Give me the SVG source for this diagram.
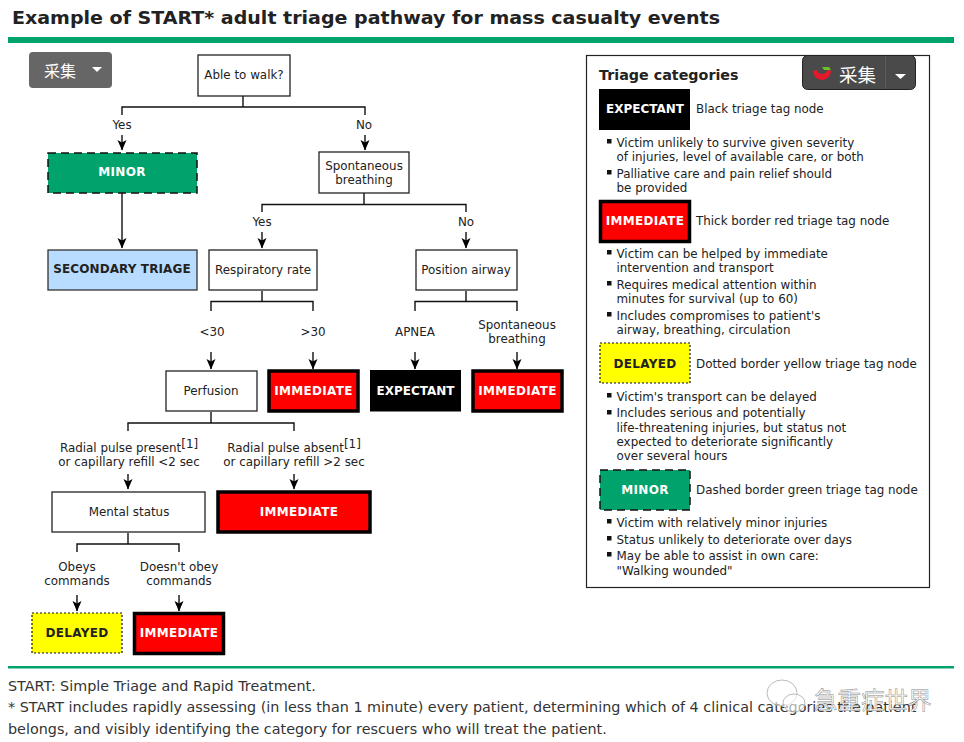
<svg xmlns="http://www.w3.org/2000/svg" width="964" height="742" viewBox="0 0 964 742">
<defs>
<marker id="ah" markerUnits="userSpaceOnUse" markerWidth="11" markerHeight="10" refX="10" refY="5" orient="auto" viewBox="0 0 11 10"><path d="M0 .5 L2.500 5 L0 9.500 L10.500 5 Z" fill="#000"/></marker>
</defs>
<style>
text{font-family:"DejaVu Sans",Verdana,sans-serif;fill:#222;font-size:11.9px;transform:translate(0,.5px)}
.c{text-anchor:middle}
.b{font-weight:bold}
.w{fill:#fff}
.box{fill:#fff;stroke:#222;stroke-width:1.3}
.imm{fill:#f00;stroke:#000;stroke-width:3.5}
.exp{fill:#000;stroke:#000;stroke-width:1}
.min{fill:#00a36c;stroke:#111;stroke-width:1.5;stroke-dasharray:8 5}
.del{fill:#ff0;stroke:#111;stroke-width:1.2;stroke-dasharray:2 2}
.sec{fill:#b8dcff;stroke:#333;stroke-width:1.3}
.tag{font-size:12px;font-weight:bold;letter-spacing:.3px}
.l{fill:none;stroke:#111;stroke-width:1.4}
.a{fill:none;stroke:#111;stroke-width:1.4;marker-end:url(#ah)}
.foot{font-size:14.35px;fill:#333;transform:none}
.bul{fill:#111}
</style>
<rect width="964" height="742" fill="#fff"/>
<text id="title" x="12" y="24" class="b" style="font-size:18.500px;transform:none" textLength="708" lengthAdjust="spacingAndGlyphs">Example of START* adult triage pathway for mass casualty events</text>
<rect x="8" y="37" width="946" height="6" fill="#00a36c"/>
<rect x="8" y="666" width="946" height="2.500" fill="#00a36c"/>

<g id="connectors">
<path class="l" d="M243 96V107M122 115V107H365V115"/>
<path class="a" d="M122 135V150"/>
<path class="a" d="M365 135V150"/>
<path class="a" d="M122 193V248"/>
<path class="l" d="M364 193V204.500M262 212V204.500H466V212"/>
<path class="a" d="M262 232V248"/>
<path class="a" d="M466 232V248"/>
<path class="l" d="M262 291V301.500M211 311V301.500H313V311"/>
<path class="a" d="M211 352V369"/>
<path class="a" d="M313 352V369"/>
<path class="l" d="M466 291V301.500M415 311V301.500H517V311"/>
<path class="a" d="M415 352V369"/>
<path class="a" d="M517 352V369"/>
<path class="l" d="M211 412V423M128 431V423H294V431"/>
<path class="a" d="M128 474V489"/>
<path class="a" d="M294 474V489"/>
<path class="l" d="M128 533V544M77 552V544H179V552"/>
<path class="a" d="M77 595V611"/>
<path class="a" d="M179 595V611"/>
</g>

<g id="n-able"><rect class="box" x="198" y="55" width="92" height="41"/><text class="c" x="244" y="78">Able to walk?</text></g>
<text class="c" x="122" y="128">Yes</text>
<text class="c" x="364" y="128">No</text>
<g id="n-minor"><rect class="min" x="48" y="153" width="149" height="40"/><text class="c tag w" x="122" y="175">MINOR</text></g>
<g id="n-secondary"><rect class="sec" x="48" y="250" width="149" height="40"/><text class="c tag" style="letter-spacing:.1px" x="122" y="272">SECONDARY TRIAGE</text></g>
<g id="n-spont"><rect class="box" x="319" y="152" width="90" height="41"/><text class="c" x="364" y="169">Spontaneous</text><text class="c" x="364" y="183">breathing</text></g>
<text class="c" x="262" y="225">Yes</text>
<text class="c" x="466" y="225">No</text>
<g id="n-resp"><rect class="box" x="209" y="250" width="108" height="40"/><text class="c" x="263" y="273">Respiratory rate</text></g>
<g id="n-airway"><rect class="box" x="416" y="250" width="101" height="40"/><text class="c" x="466" y="273">Position airway</text></g>
<text class="c" x="212" y="335">&lt;30</text>
<text class="c" x="313" y="335">&gt;30</text>
<text class="c" x="415" y="335">APNEA</text>
<text class="c" x="517" y="328">Spontaneous</text><text class="c" x="517" y="342">breathing</text>
<g id="n-perf"><rect class="box" x="166" y="371" width="91" height="40"/><text class="c" x="211" y="394">Perfusion</text></g>
<g id="n-imm1"><rect class="imm" x="269" y="371" width="89" height="40"/><text class="c tag w" x="313.500" y="394">IMMEDIATE</text></g>
<g id="n-exp"><rect class="exp" x="370.500" y="370.500" width="90" height="40.500"/><text class="c tag w" style="letter-spacing:0" x="415.500" y="394">EXPECTANT</text></g>
<g id="n-imm2"><rect class="imm" x="473" y="371" width="89" height="40"/><text class="c tag w" x="517.500" y="394">IMMEDIATE</text></g>
<text class="c" x="129" y="451">Radial pulse present<tspan dy="-4">[1]</tspan></text>
<text class="c" x="129" y="465">or capillary refill &lt;2 sec</text>
<text class="c" x="294" y="451">Radial pulse absent<tspan dy="-4">[1]</tspan></text>
<text class="c" x="294" y="465">or capillary refill &gt;2 sec</text>
<g id="n-mental"><rect class="box" x="52" y="492" width="153" height="40"/><text class="c" x="129" y="515">Mental status</text></g>
<g id="n-imm3"><rect class="imm" x="218" y="492" width="152" height="40"/><text class="c tag w" x="299" y="515">IMMEDIATE</text></g>
<text class="c" x="77" y="570">Obeys</text><text class="c" x="77" y="584">commands</text>
<text class="c" x="179" y="570">Doesn't obey</text><text class="c" x="179" y="584">commands</text>
<g id="n-delayed"><rect class="del" x="32" y="613" width="90" height="40"/><text class="c tag" x="77" y="636">DELAYED</text></g>
<g id="n-imm4"><rect class="imm" x="134.500" y="613.500" width="89" height="40"/><text class="c tag w" x="179" y="636">IMMEDIATE</text></g>

<g id="legend">
<rect x="586.500" y="55.500" width="343" height="532" fill="#fff" stroke="#222" stroke-width="1.2"/>
<text x="599" y="79" class="b" style="font-size:14.300px">Triage categories</text>
<rect x="599" y="89" width="91" height="41" fill="#000"/><text class="c tag w" style="letter-spacing:0" x="645" y="112.500">EXPECTANT</text>
<text x="696" y="112.500">Black triage tag node</text>
<text x="616.500" y="146">Victim unlikely to survive given severity</text>
<text x="616.500" y="160">of injuries, level of available care, or both</text>
<text x="616.500" y="177">Palliative care and pain relief should</text>
<text x="616.500" y="191">be provided</text>
<rect class="imm" x="600.500" y="201.500" width="89" height="40"/><text class="c tag w" x="645" y="224">IMMEDIATE</text>
<text x="696" y="224">Thick border red triage tag node</text>
<text x="616.500" y="257">Victim can be helped by immediate</text>
<text x="616.500" y="271">intervention and transport</text>
<text x="616.500" y="288">Requires medical attention within</text>
<text x="616.500" y="302">minutes for survival (up to 60)</text>
<text x="616.500" y="319">Includes compromises to patient's</text>
<text x="616.500" y="333">airway, breathing, circulation</text>
<rect class="del" x="600" y="343" width="90" height="40"/><text class="c tag" x="645" y="367">DELAYED</text>
<text x="696" y="367">Dotted border yellow triage tag node</text>
<text x="616.500" y="400">Victim's transport can be delayed</text>
<text x="616.500" y="416">Includes serious and potentially</text>
<text x="616.500" y="431">life-threatening injuries, but status not</text>
<text x="616.500" y="445">expected to deteriorate significantly</text>
<text x="616.500" y="459">over several hours</text>
<rect class="min" x="600" y="470" width="90" height="40"/><text class="c tag w" x="645" y="493">MINOR</text>
<text x="696" y="493">Dashed border green triage tag node</text>
<text x="616.500" y="526">Victim with relatively minor injuries</text>
<text x="616.500" y="543">Status unlikely to deteriorate over days</text>
<text x="616.500" y="559">May be able to assist in own care:</text>
<text x="616.500" y="574">"Walking wounded"</text>
<g class="bul">
<rect x="607" y="139" width="4.500" height="4.500"/><rect x="607" y="170" width="4.500" height="4.500"/>
<rect x="607" y="250" width="4.500" height="4.500"/><rect x="607" y="281" width="4.500" height="4.500"/><rect x="607" y="312" width="4.500" height="4.500"/>
<rect x="607" y="393" width="4.500" height="4.500"/><rect x="607" y="410" width="4.500" height="4.500"/>
<rect x="607" y="519" width="4.500" height="4.500"/><rect x="607" y="536" width="4.500" height="4.500"/><rect x="607" y="552" width="4.500" height="4.500"/>
</g>
</g>

<text class="foot" x="8" y="691">START: Simple Triage and Rapid Treatment.</text>
<text class="foot" x="8" y="712">* START includes rapidly assessing (in less than 1 minute) every patient, determining which of 4 clinical categories the patient</text>
<text class="foot" x="8" y="734">belongs, and visibly identifying the category for rescuers who will treat the patient.</text>

<g id="btn1"><rect x="29" y="52" width="83" height="36" rx="4" fill="#666"/><text x="44" y="76" style="font-family:'Noto Sans CJK SC',sans-serif;font-size:16px;fill:#fff">采集</text><path d="M92 67h10l-5 5z" fill="#fff"/></g>
<g id="btn2"><rect x="802.500" y="55.500" width="113" height="34" rx="5" fill="#4a4a4a" stroke="#222"/><path d="M885.500 56V89" stroke="#5c5c5c"/><path d="M813 71a9 9 0 0 0 18 0l-4 -1a5 4 0 0 1 -10 0z" fill="#e8182c"/><path d="M822 67h7l2 3h-7z" fill="#6fbf2a"/><text x="839" y="81" style="font-family:'Noto Sans CJK SC',sans-serif;font-size:18.500px;fill:#fff">采集</text><path d="M895 74h11l-5.500 5z" fill="#fff"/></g>
<g id="watermark" fill="none" stroke="#aaa" stroke-width=".8"><ellipse cx="782" cy="693" rx="15" ry="13" fill="#fff" fill-opacity=".6"/><ellipse cx="794" cy="703" rx="11" ry="9" fill="#fff" fill-opacity=".6"/></g>
<text x="814" y="708" style="font-family:'Noto Sans CJK SC',sans-serif;font-size:23.500px;fill:#fff;stroke:#888;stroke-width:.5px">急重症世界</text>
</svg>
